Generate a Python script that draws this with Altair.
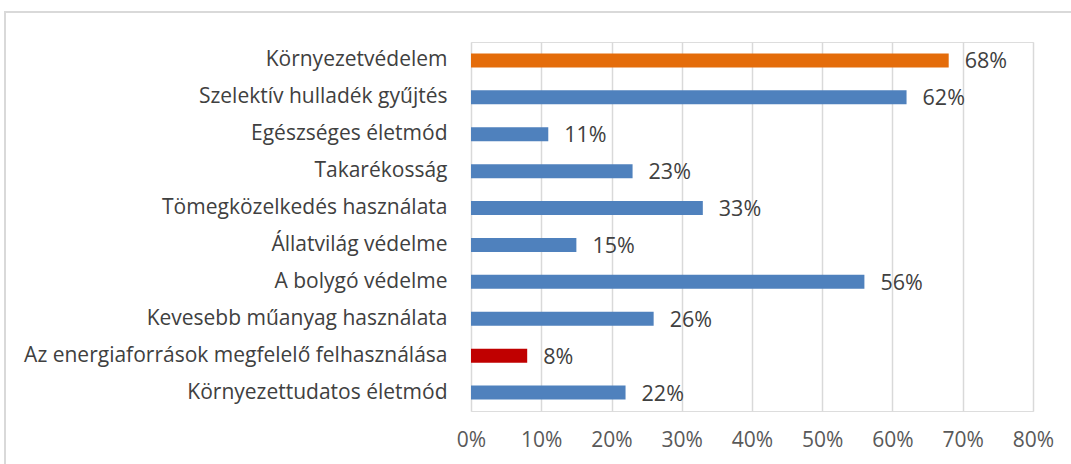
import altair as alt
import pandas as pd

categories = [
    "Környezetvédelem",
    "Szelektív hulladék gyűjtés",
    "Egészséges életmód",
    "Takarékosság",
    "Tömegközelkedés használata",
    "Állatvilág védelme",
    "A bolygó védelme",
    "Kevesebb műanyag használata",
    "Az energiaforrások megfelelő felhasználása",
    "Környezettudatos életmód",
]
values = [0.68, 0.62, 0.11, 0.23, 0.33, 0.15, 0.56, 0.26, 0.08, 0.22]
colors = ["#E46C0A", "#4F81BD", "#4F81BD", "#4F81BD", "#4F81BD",
          "#4F81BD", "#4F81BD", "#4F81BD", "#C00000", "#4F81BD"]

df = pd.DataFrame({"cat": categories, "val": values, "color": colors})
df["label"] = [f"{round(v*100)}%" for v in values]

FONT = "Open Sans"

x = alt.X("val:Q", scale=alt.Scale(domain=[0, 0.8]),
          axis=alt.Axis(format="%", values=[0, .1, .2, .3, .4, .5, .6, .7, .8],
                        grid=True, gridColor="#d9d9d9", gridWidth=1.5,
                        domain=False, ticks=False, labelPadding=18, labelFlush=False,
                        labelFontSize=21, labelColor="#595959", labelFont=FONT,
                        title=None))
y = alt.Y("cat:N", sort=categories, scale=alt.Scale(paddingInner=0.62, paddingOuter=0.31),
          axis=alt.Axis(domain=False, ticks=False, labelPadding=24, labelFontSize=21,
                        labelColor="#404040", labelFont=FONT, labelLimit=500, title=None))

border = alt.Chart(df).mark_rect(fill=None, stroke="#d9d9d9", strokeWidth=2).encode(
    x=alt.value(-466), x2=alt.value(610), y=alt.value(-30), y2=alt.value(480)
).transform_filter("datum.cat == 'Környezetvédelem'")

bars = alt.Chart(df).mark_bar(size=14).encode(
    x=x, y=y, color=alt.Color("color:N", scale=None)
)
labels = alt.Chart(df).mark_text(align="left", baseline="middle", dx=16, dy=2,
                                 fontSize=21.5, font=FONT, color="#404040").encode(
    x="val:Q", y=alt.Y("cat:N", sort=categories), text="label:N"
)

chart = alt.layer(border, bars, labels).properties(
    width=562, height=369,
    autosize=alt.AutoSizeParams(type="none"),
    padding={"left": 471, "top": 42, "right": 38, "bottom": 53},
).configure_view(stroke=None).configure(background="white")

chart.save("out.html", embed_options={"renderer": "svg", "actions": False})
